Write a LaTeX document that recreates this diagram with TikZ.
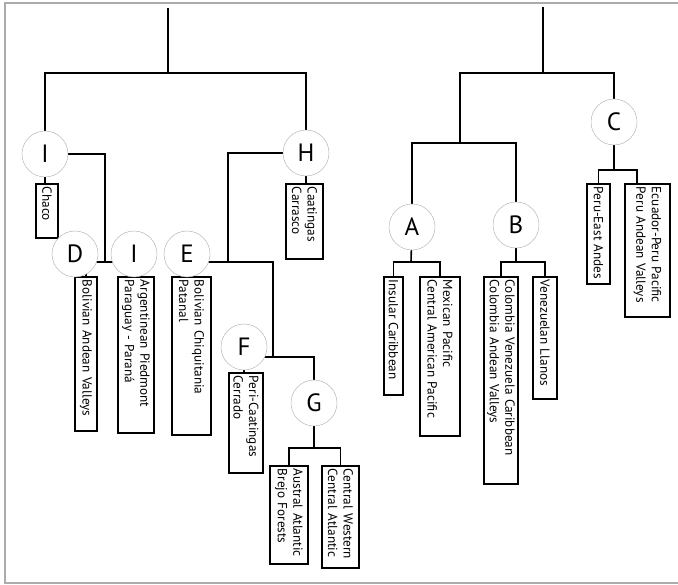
\documentclass[tikz,border=0pt]{standalone}
\usepackage{fontspec}
\setmainfont{PT Sans}
\usetikzlibrary{positioning,backgrounds}

\begin{document}
\begin{tikzpicture}[x=1pt, y=-1pt,
    region/.style={circle, draw=gray!55, line width=0.5pt, fill=white, minimum size=46pt, inner sep=0pt, font=\fontsize{25}{25}\selectfont},
    biome/.style={rectangle, draw, line width=1.8pt, fill=white, rotate=-90, anchor=south west, align=left, inner xsep=3pt, inner ysep=1pt, font=\fontsize{13.2}{15.5}\selectfont},
    link/.style={line width=1.6pt},
    frame/.style={draw=gray!65, line width=1.6pt}]
    \useasboundingbox (0,0) rectangle (678,585);
    \draw[frame] (678,3) -- (5,3) -- (5,583) -- (678,583);

    % leaf boxes, left tree
    \node[biome, text width=48pt, minimum height=22pt] (chaco) at (35,183) {Chaco};
    \node[biome, text width=148pt, minimum height=22pt] (bav) at (74,276) {Bolivian Andean Valleys};
    \node[biome, text width=150pt, minimum height=36pt] (arg) at (117,276) {Argentinean Piedmont\\Paraguay - Paraná};
    \node[biome, text width=152pt, minimum height=39pt] (chiq) at (171,276) {Bolivian Chiquitania\\Patanal};
    \node[biome, text width=69pt, minimum height=37pt] (caat) at (285,183) {Caatingas\\Carrasco};
    \node[biome, text width=94pt, minimum height=34pt] (peri) at (228,372) {Peri-Caatingas\\Cerrado};
    \node[biome, text width=92pt, minimum height=38pt] (austral) at (269,465) {Austral Atlantic\\Brejo Forests};
    \node[biome, text width=96pt, minimum height=37pt] (centw) at (321,465) {Central Western\\Central Atlantic};

    % leaf boxes, right tree
    \node[biome, text width=112pt, minimum height=19pt] (insular) at (383,276) {Insular Caribbean};
    \node[biome, text width=153pt, minimum height=40pt] (mex) at (419,276) {Mexican Pacific\\Central American Pacific};
    \node[biome, text width=201pt, minimum height=34pt] (colo) at (483,276) {Colombia Venezuela Caribbean\\Colombia Andean Valleys};
    \node[biome, text width=116pt, minimum height=24pt] (venez) at (532,276) {Venezuelan Llanos};
    \node[biome, text width=94pt, minimum height=23pt] (perue) at (586,183) {Peru-East Andes};
    \node[biome, text width=127pt, minimum height=45pt] (ecu) at (624,183) {Ecuador-Peru Pacific\\Peru Andean Valleys};

    % region circles
    \node[region] (I1) at (45,154) {I};
    \node[region] (H) at (306,153) {H};
    \node[region] (D) at (75,254) {D};
    \node[region] (I2) at (134,254) {I};
    \node[region] (E) at (187,254) {E};
    \node[region] (F) at (244,347) {F};
    \node[region] (G) at (314,403) {G};
    \node[region] (A) at (412,227) {A};
    \node[region] (B) at (516,225) {B};
    \node[region] (C) at (614,122) {C};

    % branch points
    \coordinate (lroot) at (168,8);
    \coordinate (ljoin) at (168,73);
    \coordinate (dI) at (105,262);
    \coordinate (hj) at (228,262);
    \coordinate (fj) at (273,262);
    \coordinate (gj) at (273,357);
    \coordinate (gk) at (314,448);
    \coordinate (rroot) at (543,7);
    \coordinate (rjoin) at (543,73);
    \coordinate (abj) at (460,143);
    \coordinate (ak) at (411,262);
    \coordinate (bk) at (516,262);
    \coordinate (ck) at (614,170);

    \begin{scope}[on background layer]
        % left tree
        \draw[link] (lroot) -- (ljoin);
        \draw[link] (I1.center) |- (ljoin) -| (H.center);
        \draw[link] (I1.center) -- (I1.center |- chaco.west);
        \draw[link] (I1.center) -| (dI);
        \draw[link] (D.center |- dI) -- (I2.center |- dI);
        \draw[link] (bav.west) -- (bav.west |- D.center);
        \draw[link] (arg.west) -- (arg.west |- I2.center);
        \draw[link] (chiq.west) -- (chiq.west |- E.center);
        \draw[link] (H.center) -- (H.center |- caat.west);
        \draw[link] (H.center) -| (hj);
        \draw[link] (E.center |- hj) -- (fj) -- (gj);
        \draw[link] (F.center |- gj) -| (G.center);
        \draw[link] (F.center) -- (F.center |- peri.west);
        \draw[link] (G.center) -- (gk);
        \draw[link] (austral.west) |- (gk) -| (centw.west);
        % right tree
        \draw[link] (rroot) -- (rjoin);
        \draw[link] (abj) |- (rjoin) -| (C.center);
        \draw[link] (A.center) |- (abj) -| (B.center);
        \draw[link] (A.center) -- (ak);
        \draw[link] (insular.west) |- (ak) -| (mex.west);
        \draw[link] (B.center) -- (bk);
        \draw[link] (colo.west) |- (bk) -| (venez.west);
        \draw[link] (C.center) -- (ck);
        \draw[link] (perue.west) |- (ck) -| ([xshift=-10.5pt]ecu.west);
    \end{scope}
\end{tikzpicture}
\end{document}
